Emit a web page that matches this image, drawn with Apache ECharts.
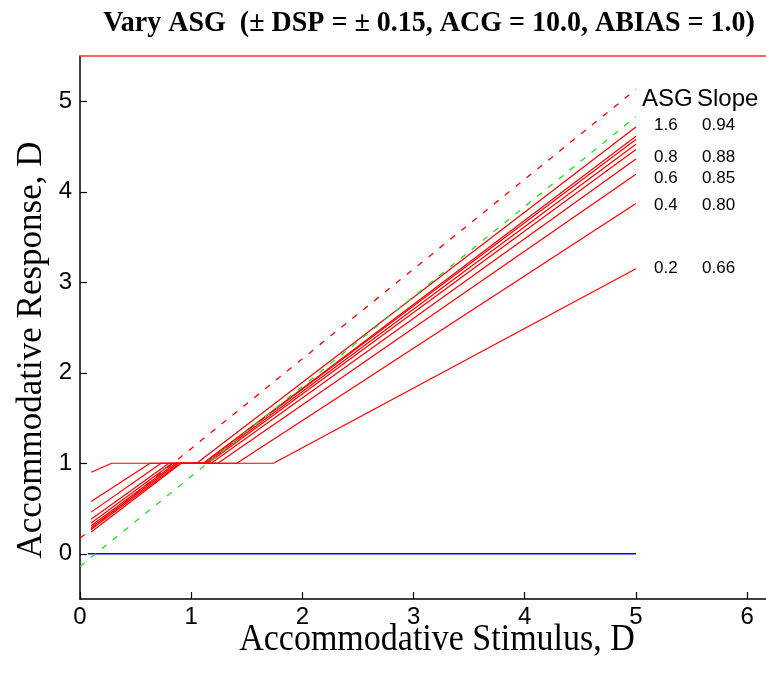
<!DOCTYPE html>
<html>
<head>
<meta charset="utf-8">
<script src="https://cdn.jsdelivr.net/npm/echarts@6/dist/echarts.min.js"></script>
<style>
html,body{margin:0;padding:0;background:#fff;}
#c{width:766px;height:679px;}
</style>
</head>
<body>
<div id="c"></div>
<script>
// ---- data ----
const asgValues   = [1.6, 1.4, 1.2, 1.0, 0.9, 0.8, 0.6, 0.4, 0.2];
const startX      = 0.1;
const endX        = 5.0;
const abias       = 1.0;
const startY      = [0.24, 0.27, 0.29, 0.31, 0.34, 0.38, 0.46, 0.577, 0.90];
const joinX       = [0.91, 0.90, 0.88, 0.86, 0.83, 0.80, 0.73, 0.63, 0.285];
const leaveX      = [1.05, 1.11, 1.11, 1.13, 1.15, 1.18, 1.24, 1.41, 1.74];
const endY        = [4.716, 4.614, 4.577, 4.525, 4.467, 4.363, 4.194, 3.871, 3.149];
const dspUpper    = [[0, 0.17], [5, 5.13]];
const dspLower    = [[0, -0.14], [5, 4.83]];
const zeroLine    = [[0.07, 0], [5, 0]];
const labelAsg    = ['1.6', '0.8', '0.6', '0.4', '0.2'];
const labelSlope  = ['0.94', '0.88', '0.85', '0.80', '0.66'];
const xTicks      = [0, 1, 2, 3, 4, 5, 6];
const yTicks      = [0, 1, 2, 3, 4, 5];

// ---- layout ----
const labelRowY = [125, 157, 178, 205, 268];

const chart = echarts.init(document.getElementById('c'), null, {renderer: 'canvas'});

const series = [];
asgValues.forEach((a, i) => {
  series.push({
    name: 'ASG ' + a,
    type: 'line',
    data: [[startX, startY[i]], [joinX[i], abias], [leaveX[i], abias], [endX, endY[i]]],
    showSymbol: false,
    lineStyle: {color: '#ff0000', width: 1.2},
    z: 3
  });
});
series.push({
  name: '+DSP', type: 'line', data: dspUpper, showSymbol: false,
  lineStyle: {color: '#ff0000', width: 1.3, type: [6, 8]}, z: 2
});
series.push({
  name: '-DSP', type: 'line', data: dspLower, showSymbol: false,
  lineStyle: {color: '#22dd22', width: 1.3, type: [6, 8]}, z: 4
});
series.push({
  name: 'zero', type: 'line', data: zeroLine, showSymbol: false,
  lineStyle: {color: '#0000ff', width: 1.5}, z: 2
});

const graphics = [];
graphics.push({
  type: 'text', x: 429, y: 23, scaleY: 1.08,
  style: {text: 'Vary ASG  (\u00b1 DSP = \u00b1 0.15, ACG = 10.0, ABIAS = 1.0)',
    font: 'bold 28px "Liberation Serif"', fill: '#000', textAlign: 'center', textVerticalAlign: 'middle'}
});
graphics.push({
  type: 'text', x: 437, y: 640, scaleY: 1.1,
  style: {text: 'Accommodative Stimulus, D', font: '34px "Liberation Serif"', fill: '#000',
    textAlign: 'center', textVerticalAlign: 'middle'}
});
graphics.push({
  type: 'text', x: 31, y: 350, rotation: Math.PI / 2, scaleY: 1.05,
  style: {text: 'Accommodative Response, D', font: '35px "Liberation Serif"', fill: '#000',
    textAlign: 'center', textVerticalAlign: 'middle'}
});
graphics.push({
  type: 'text', x: 642, y: 99,
  style: {text: 'ASG', font: '24px "Liberation Sans"', fill: '#000', textAlign: 'left', textVerticalAlign: 'middle'}
});
graphics.push({
  type: 'text', x: 697, y: 99,
  style: {text: 'Slope', font: '24px "Liberation Sans"', fill: '#000', textAlign: 'left', textVerticalAlign: 'middle'}
});
labelAsg.forEach((t, i) => {
  graphics.push({type: 'text', x: 654, y: labelRowY[i],
    style: {text: t, font: '17px "Liberation Sans"', fill: '#000', textAlign: 'left', textVerticalAlign: 'middle'}});
  graphics.push({type: 'text', x: 702, y: labelRowY[i],
    style: {text: labelSlope[i], font: '17px "Liberation Sans"', fill: '#000', textAlign: 'left', textVerticalAlign: 'middle'}});
});

chart.setOption({
  animation: false,
  backgroundColor: '#fff',
  grid: {left: 80, right: 0, top: 56, bottom: 80, containLabel: false},
  xAxis: [{
    type: 'value', min: 0, max: 6.17, interval: 1,
    axisLine: {show: true, onZero: false, lineStyle: {color: '#000', width: 1.5}},
    axisTick: {show: true, inside: true, length: 7, lineStyle: {color: '#000', width: 1.2}},
    axisLabel: {show: true, color: '#000', fontSize: 24, fontFamily: 'Liberation Sans', margin: 6,
      showMaxLabel: false,
      formatter: v => xTicks.includes(Math.round(v * 1000) / 1000) ? String(v) : ''},
    splitLine: {show: false}
  }, {
    type: 'value', position: 'top', min: 0, max: 6.17,
    axisLine: {show: true, onZero: false, lineStyle: {color: '#ff3333', width: 1.5}},
    axisTick: {show: false}, axisLabel: {show: false}, splitLine: {show: false}
  }],
  yAxis: {
    type: 'value', min: -0.5, max: 5.5, splitNumber: 6,
    axisLine: {show: true, onZero: false, lineStyle: {color: '#000', width: 1.5}},
    axisTick: {show: true, inside: true, length: 7, lineStyle: {color: '#000', width: 1.2}},
    axisLabel: {show: true, color: '#000', fontSize: 24, fontFamily: 'Liberation Sans', margin: 8,
      showMinLabel: false, showMaxLabel: false,
      formatter: v => yTicks.includes(Math.round(v * 1000) / 1000) ? String(v) : ''},
    splitLine: {show: false}
  },
  series: series,
  graphic: graphics
});
</script>
</body>
</html>
